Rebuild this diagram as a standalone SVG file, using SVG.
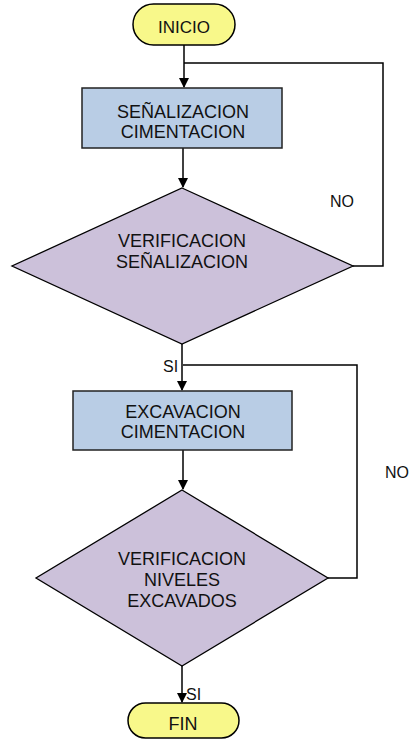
<svg xmlns="http://www.w3.org/2000/svg" width="413" height="740" viewBox="0 0 413 740">
<style>
text{font-family:"Liberation Sans",Arial,sans-serif;font-size:18px;fill:#111;text-anchor:middle}
.term{fill:#F8F88A;stroke:#000;stroke-width:1.5}
.box{fill:#B9CDE5;stroke:#222;stroke-width:1.5}
.dia{fill:#CCC1DA;stroke:#000;stroke-width:1.3}
.ln{fill:none;stroke:#000;stroke-width:1.5}
.lbl{font-size:16px;text-anchor:start}
</style>
<defs>
<marker id="ah" markerWidth="10" markerHeight="10" refX="9" refY="5" orient="auto" markerUnits="userSpaceOnUse">
<path d="M0,0 L10,5 L0,10 z" fill="#000"/>
</marker>
</defs>
<g id="connectors">
<path class="ln" d="M184,45 V87" marker-end="url(#ah)"/>
<path class="ln" d="M353,266 H383 V63 H184"/>
<path class="ln" d="M183,148 V187" marker-end="url(#ah)"/>
<path class="ln" d="M182,344 V390" marker-end="url(#ah)"/>
<path class="ln" d="M328,578 H357 V365 H183"/>
<path class="ln" d="M183,450 V489" marker-end="url(#ah)"/>
<path class="ln" d="M182,666 V702" marker-end="url(#ah)"/>
<text class="lbl" x="330" y="207">NO</text>
<text class="lbl" x="385" y="478">NO</text>
<text class="lbl" x="163" y="372">SI</text>
<text class="lbl" x="186" y="700">SI</text>
</g>
<g id="inicio">
<rect class="term" x="133" y="4" width="102" height="41" rx="20.5"/>
<text x="184" y="33" style="font-size:17px">INICIO</text>
</g>
<g id="senalizacion">
<rect class="box" x="82" y="88" width="200" height="60"/>
<text x="183" y="118">SEÑALIZACION</text>
<text x="183" y="138">CIMENTACION</text>
</g>
<g id="verif1">
<polygon class="dia" points="182,188 353,266 182,344 12,266"/>
<text x="182" y="247">VERIFICACION</text>
<text x="182" y="268">SEÑALIZACION</text>
</g>
<g id="excavacion">
<rect class="box" x="73" y="391" width="219" height="59"/>
<text x="183" y="418">EXCAVACION</text>
<text x="183" y="438">CIMENTACION</text>
</g>
<g id="verif2">
<polygon class="dia" points="182,490 328,578 182,666 36,578"/>
<text x="182" y="565">VERIFICACION</text>
<text x="182" y="586">NIVELES</text>
<text x="182" y="607">EXCAVADOS</text>
</g>
<g id="fin">
<rect class="term" x="128" y="703" width="111" height="35" rx="17.5"/>
<text x="183" y="730">FIN</text>
</g>
</svg>
